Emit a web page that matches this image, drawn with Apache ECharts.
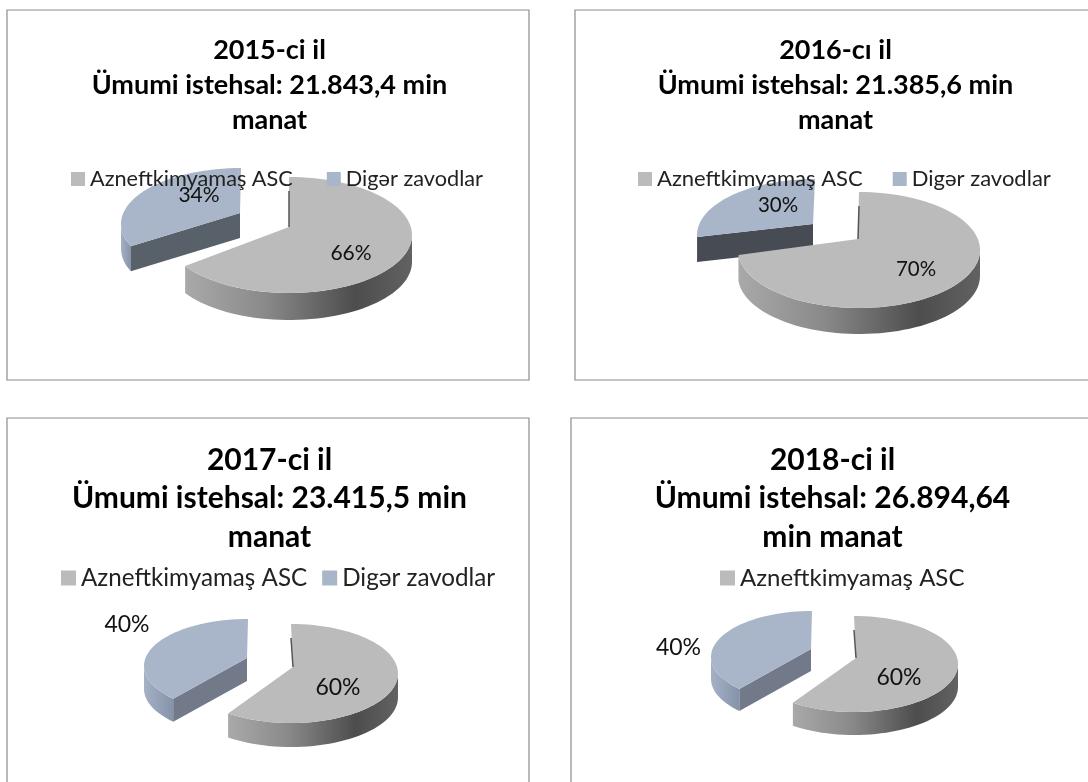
<!DOCTYPE html>
<html><head><meta charset="utf-8">
<style>html,body{margin:0;padding:0;background:#fff}#c{width:1088px;height:782px}</style>
<script src="https://cdn.jsdelivr.net/npm/echarts@6/dist/echarts.min.js"></script>
</head><body><div id="c"></div>
<script>
// ---- data ----
var titles = [
  '2015-ci il\nÜmumi istehsal: 21.843,4 min\nmanat',
  '2016-cı il\nÜmumi istehsal: 21.385,6 min\nmanat',
  '2017-ci il\nÜmumi istehsal: 23.415,5 min\nmanat',
  '2018-ci il\nÜmumi istehsal: 26.894,64\nmin manat'
];
var categories = ['Azneftkimyamaş ASC', 'Digər zavodlar'];
var azneftValues = [66, 70, 60, 60];
var digerValues = [34, 30, 40, 40];
var legendEntries = [categories, categories, categories, [categories[0]]];

// ---- layout (pixels, styling only) ----
var FONT = 'Lato, "Noto Sans", sans-serif';
var GRAY = '#BBBBBB', BLUE = '#A9B5C8';
var frames = [[7,10,522,370],[575,10,540,370],[7,418,522,400],[571,418,540,400]];
var titleLayout = [
  {x:264.5,y:28,size:27,lh:35},{x:830.5,y:28,size:27,lh:35},
  {x:264.5,y:436,size:30,lh:38.5},{x:827.5,y:436,size:30,lh:38.5}
];
var legendLayout = [
  {x:66,y:163,gap:34,size:21.7,icon:14,label:21},
  {x:633,y:163,gap:30,size:22,icon:14,label:20.5},
  {x:56,y:561,gap:15,size:24.2,icon:15,label:23},
  {x:715,y:561,gap:15,size:24,icon:15,label:23}
];
// geometry of the pseudo-3D discs: c = ellipse centre, r = radii, a = apex, d = depth, w = perspective shift of the cut
var grayGeo = [
  {cx:289,cy:235,rx:123,ry:58,ax:289,ay:227,d:27,w:0,lx:351,ly:253},
  {cx:859,cy:250,rx:121,ry:58,ax:858,ay:239,d:26,w:13,lx:916,ly:269},
  {cx:291,cy:673.5,rx:107,ry:49.5,ax:293,ay:667,d:24,w:0,lx:338,ly:688},
  {cx:854,cy:664,rx:104,ry:48,ax:856,ay:658,d:23,w:0,lx:899,ly:678}
];
var blueGeo = [
  {cx:241,cy:224,rx:120,ry:56,ax:240,ay:213,d:25,w:9,wall:'#58606A',lx:199,ly:195},
  {cx:815,cy:235,rx:118,ry:56,ax:813,ay:224,d:25,w:16,wall:'#474B54',lx:778,ly:205},
  {cx:248,cy:666,rx:104,ry:47,ax:247,ay:658,d:23,w:10,wall:'#727989',lx:127,ly:625},
  {cx:812,cy:657,rx:101,ry:46,ax:811,ay:649,d:22,w:10,wall:'#727989',lx:678.5,ly:648}
];

function pt(g, deg, dy) {
  var t = deg * Math.PI / 180;
  return [g.cx + g.rx * Math.sin(t), g.cy - g.ry * Math.cos(t) + (dy || 0)];
}
function arc(g, from, to, dy) {
  var out = [], n = Math.max(2, Math.ceil(Math.abs(to - from) / 3));
  for (var i = 0; i <= n; i++) out.push(pt(g, from + (to - from) * i / n, dy));
  return out;
}
function lin(stops) {
  return new echarts.graphic.LinearGradient(0, 0, 1, 0, stops);
}
function grayRender(i) {
  return function (params, api) {
    var g = grayGeo[i];
    var share = api.value(0) / (api.value(0) + digerValues[i]);
    var end = share * 360 + g.w;
    var children = [];
    var a1 = 90, a2 = Math.min(end, 270);
    var top = arc(g, a1, a2, 0), bot = arc(g, a2, a1, g.d);
    children.push({ type: 'polygon', shape: { points: top.concat(bot) }, style: {
      fill: lin([{offset:0,color:'#A9A9A9'},{offset:.35,color:'#8A8A8A'},{offset:.75,color:'#4D4D4D'},{offset:1,color:'#626262'}]) } });
    var face = [[g.ax, g.ay]].concat(arc(g, 0, end, 0));
    children.push({ type: 'polygon', shape: { points: face }, style: { fill: GRAY } });
    var t = pt(g, 0);
    children.push({ type: 'polyline', shape: { points: [[t[0], t[1] + 14], [g.ax, g.ay]] }, style: { stroke: '#555', lineWidth: 1.5, fill: null } });
    children.push({ type: 'text', style: { text: api.value(0) + '%', x: g.lx, y: g.ly, align: 'center', verticalAlign: 'middle', font: legendLayout[i].label + 'px ' + FONT, fill: '#111' } });
    return { type: 'group', children: children };
  };
}
function blueRender(i) {
  return function (params, api) {
    var g = blueGeo[i];
    var share = api.value(0) / (api.value(0) + azneftValues[i]);
    var start = (1 - share) * 360 + g.w;
    var children = [];
    var c = pt(g, start);
    if (start < 270) {
      var top = arc(g, start, 270, 0), bot = arc(g, 270, start, g.d);
      children.push({ type: 'polygon', shape: { points: top.concat(bot) }, style: {
        fill: lin([{offset:0,color:'#A5B1C5'},{offset:1,color:'#8592A8'}]) } });
    }
    children.push({ type: 'polygon', shape: { points: [[g.ax, g.ay], c, [c[0], c[1] + g.d], [g.ax, g.ay + g.d]] }, style: { fill: g.wall } });
    var face = [[g.ax, g.ay]].concat(arc(g, start, 360, 0));
    children.push({ type: 'polygon', shape: { points: face }, style: { fill: BLUE } });
    children.push({ type: 'text', style: { text: api.value(0) + '%', x: g.lx, y: g.ly, align: 'center', verticalAlign: 'middle', font: legendLayout[i].label + 'px ' + FONT, fill: '#111' } });
    return { type: 'group', children: children };
  };
}

var series = [], legends = [], titleOpts = [], graphics = [];
titles.forEach(function (t, i) {
  var f = frames[i], tl = titleLayout[i], ll = legendLayout[i];
  graphics.push({ type: 'rect', z: -1, shape: { x: f[0], y: f[1], width: f[2], height: f[3] },
    style: { fill: '#fff', stroke: '#8C8C8C', lineWidth: 1.2 } });
  titleOpts.push({ text: t, left: tl.x, top: tl.y, textAlign: 'center',
    textStyle: { fontFamily: FONT, fontWeight: 'bold', fontSize: tl.size, lineHeight: tl.lh, color: '#000' } });
  legends.push({ data: legendEntries[i], left: ll.x, top: ll.y, itemGap: ll.gap, itemWidth: ll.icon, itemHeight: ll.icon,
    icon: 'rect', selectedMode: false, textStyle: { fontFamily: FONT, fontSize: ll.size, color: '#222' } });
  series.push({ type: 'custom', coordinateSystem: 'none', name: categories[1], itemStyle: { color: BLUE },
    renderItem: blueRender(i), data: [[digerValues[i]]], silent: true, z: 2 });
  series.push({ type: 'custom', coordinateSystem: 'none', name: categories[0], itemStyle: { color: GRAY },
    renderItem: grayRender(i), data: [[azneftValues[i]]], silent: true, z: 3 });
});
var chart = echarts.init(document.getElementById('c'));
chart.setOption({ animation: false, backgroundColor: '#fff', title: titleOpts, legend: legends, series: series, graphic: graphics });
</script></body></html>
